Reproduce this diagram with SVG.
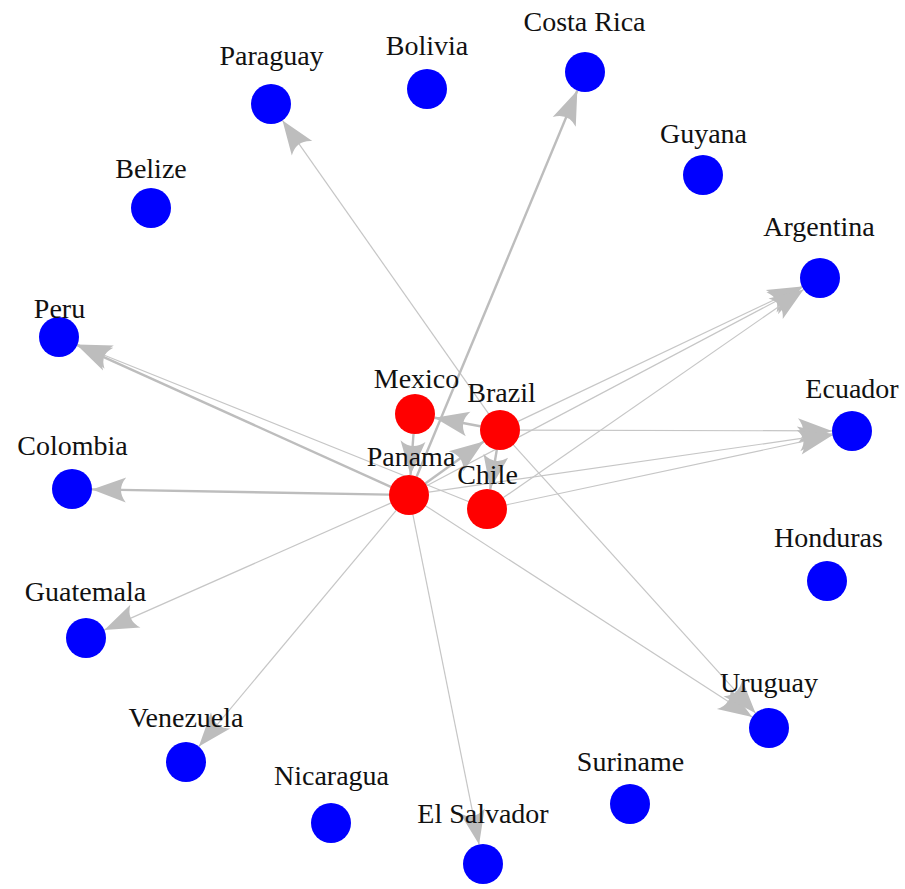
<svg xmlns="http://www.w3.org/2000/svg" width="905" height="889" viewBox="0 0 905 889">
  <style>
    .edge { stroke: #c6c6c6; stroke-width: 1.2; fill: none; marker-end: url(#arrow); }
    .thick { stroke: #bdbdbd; stroke-width: 2.4; }
    .core { fill: #ff0000; }
    .peer { fill: #0000ff; }
    .label { font-family: "Liberation Serif", "Times New Roman", serif; font-size: 28px; fill: #111; text-anchor: middle; }
  </style>
  <defs>
    <marker id="arrow" markerUnits="userSpaceOnUse" viewBox="-36 -14 38 28" refX="0" refY="0" markerWidth="38" markerHeight="28" orient="auto">
      <path d="M0,0 L-34,-12.5 Q-24,0 -34,12.5 Z" fill="#bdbdbd"/>
    </marker>
  </defs>
  <rect width="905" height="889" fill="#ffffff"/>

  <!-- directed links -->
  <g id="edges">
    <line class="edge" x1="488.5" y1="413.6" x2="282.5" y2="120.4"/>
    <line class="edge thick" x1="416.7" y1="476.5" x2="577.3" y2="90.5"/>
    <line class="edge thick" x1="390.8" y1="486.8" x2="77.2" y2="345.2"/>
    <line class="edge" x1="468.4" y1="501.5" x2="77.6" y2="344.5"/>
    <line class="edge thick" x1="389" y1="494.6" x2="92" y2="489.4"/>
    <line class="edge" x1="390.7" y1="503.1" x2="104.3" y2="629.9"/>
    <line class="edge" x1="396.2" y1="510.4" x2="198.8" y2="746.6"/>
    <line class="edge" x1="412.9" y1="514.6" x2="479.1" y2="844.4"/>
    <line class="edge" x1="425.8" y1="505.9" x2="752.2" y2="717.1"/>
    <line class="edge" x1="513.4" y1="444.8" x2="755.6" y2="713.2"/>
    <line class="edge" x1="518.1" y1="421.4" x2="801.9" y2="286.6"/>
    <line class="edge" x1="426.7" y1="485.7" x2="802.3" y2="287.3"/>
    <line class="edge" x1="503.4" y1="497.6" x2="803.6" y2="289.4"/>
    <line class="edge" x1="520" y1="430.1" x2="832" y2="430.9"/>
    <line class="edge" x1="428.8" y1="492.1" x2="832.2" y2="433.9"/>
    <line class="edge" x1="506.6" y1="504.8" x2="832.4" y2="435.2"/>
    <line class="edge thick" x1="480.3" y1="426.3" x2="434.7" y2="417.7"/>
    <line class="edge thick" x1="413.5" y1="434" x2="410.5" y2="475"/>
    <line class="edge thick" x1="425.3" y1="483.4" x2="483.7" y2="441.6"/>
    <line class="edge thick" x1="496.8" y1="449.7" x2="490.2" y2="489.3"/>
  </g>

  <!-- countries -->
  <g id="node-paraguay"><circle class="peer" cx="271" cy="104" r="20"/></g>
  <g id="node-bolivia"><circle class="peer" cx="427" cy="89" r="20"/></g>
  <g id="node-costa-rica"><circle class="peer" cx="585" cy="72" r="20"/></g>
  <g id="node-belize"><circle class="peer" cx="151" cy="208" r="20"/></g>
  <g id="node-guyana"><circle class="peer" cx="703" cy="175" r="20"/></g>
  <g id="node-argentina"><circle class="peer" cx="820" cy="278" r="20"/></g>
  <g id="node-peru"><circle class="peer" cx="59" cy="337" r="20"/></g>
  <g id="node-mexico"><circle class="core" cx="415" cy="414" r="20"/></g>
  <g id="node-brazil"><circle class="core" cx="500" cy="430" r="20"/></g>
  <g id="node-ecuador"><circle class="peer" cx="852" cy="431" r="20"/></g>
  <g id="node-colombia"><circle class="peer" cx="72" cy="489" r="20"/></g>
  <g id="node-panama"><circle class="core" cx="409" cy="495" r="20"/></g>
  <g id="node-chile"><circle class="core" cx="487" cy="509" r="20"/></g>
  <g id="node-honduras"><circle class="peer" cx="827" cy="581" r="20"/></g>
  <g id="node-guatemala"><circle class="peer" cx="86" cy="638" r="20"/></g>
  <g id="node-uruguay"><circle class="peer" cx="769" cy="728" r="20"/></g>
  <g id="node-venezuela"><circle class="peer" cx="186" cy="762" r="20"/></g>
  <g id="node-nicaragua"><circle class="peer" cx="331" cy="823" r="20"/></g>
  <g id="node-suriname"><circle class="peer" cx="630" cy="804" r="20"/></g>
  <g id="node-el-salvador"><circle class="peer" cx="483" cy="864" r="20"/></g>

  <!-- names, drawn above everything -->
  <g id="labels">
    <text class="label" x="271.5" y="65">Paraguay</text>
    <text class="label" x="427" y="55">Bolivia</text>
    <text class="label" x="584.5" y="31">Costa Rica</text>
    <text class="label" x="151" y="178">Belize</text>
    <text class="label" x="703.5" y="143">Guyana</text>
    <text class="label" x="819" y="236">Argentina</text>
    <text class="label" x="59.5" y="318">Peru</text>
    <text class="label" x="416.5" y="388">Mexico</text>
    <text class="label" x="501.5" y="402">Brazil</text>
    <text class="label" x="852" y="398">Ecuador</text>
    <text class="label" x="72.5" y="455">Colombia</text>
    <text class="label" x="411" y="466">Panama</text>
    <text class="label" x="487.5" y="484">Chile</text>
    <text class="label" x="828.5" y="547">Honduras</text>
    <text class="label" x="85.5" y="601">Guatemala</text>
    <text class="label" x="769" y="692">Uruguay</text>
    <text class="label" x="186" y="727">Venezuela</text>
    <text class="label" x="331.5" y="785">Nicaragua</text>
    <text class="label" x="630.5" y="771">Suriname</text>
    <text class="label" x="483" y="823">El Salvador</text>
  </g>
</svg>
